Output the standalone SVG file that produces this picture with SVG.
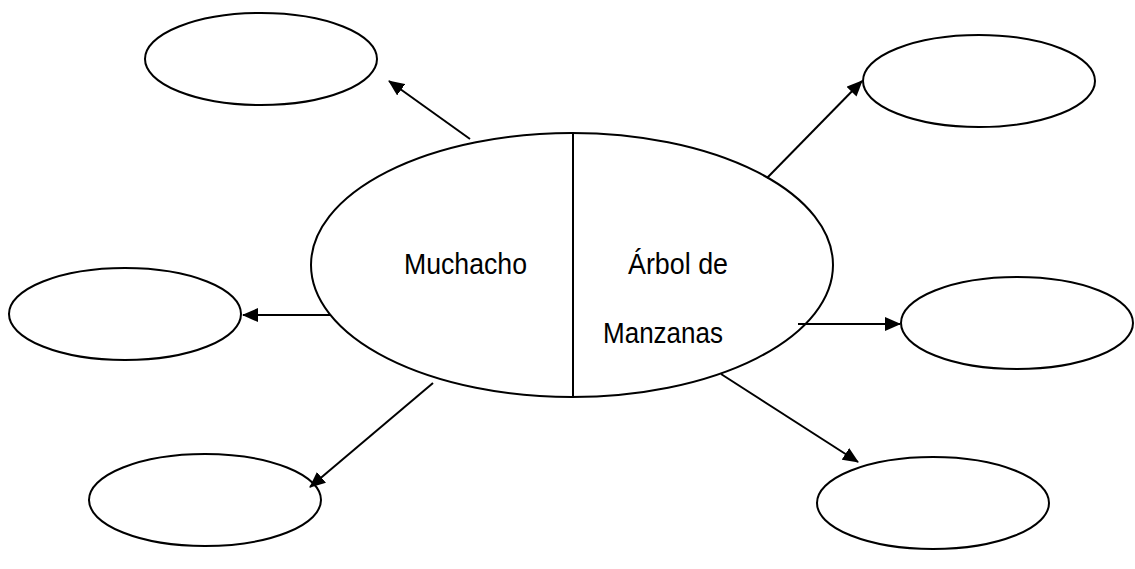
<svg xmlns="http://www.w3.org/2000/svg" width="1135" height="569" viewBox="0 0 1135 569">
<style>
.shape{fill:#fff;stroke:#000;stroke-width:2}
.conn{stroke:#000;stroke-width:2;fill:none;marker-end:url(#arr)}
.lbl{font-family:"Liberation Sans",Arial,sans-serif;font-size:29px;fill:#000}
</style>
<defs>
<marker id="arr" markerWidth="8" markerHeight="7" refX="7.5" refY="3.5" orient="auto" markerUnits="strokeWidth">
<path d="M0,0 L8,3.5 L0,7 Z" fill="#000"/>
</marker>
</defs>
<rect width="1135" height="569" fill="#fff"/>
<g id="center">
<ellipse class="shape" cx="572" cy="265" rx="261" ry="132"/>
<line x1="573" y1="133" x2="573" y2="397" stroke="#000" stroke-width="2"/>
<text class="lbl" x="404" y="274" textLength="123" lengthAdjust="spacingAndGlyphs">Muchacho</text>
<text class="lbl" x="628" y="274" textLength="100" lengthAdjust="spacingAndGlyphs">Árbol de</text>
<text class="lbl" x="603" y="343" textLength="120" lengthAdjust="spacingAndGlyphs">Manzanas</text>
</g>
<g id="top-left"><ellipse class="shape" cx="261" cy="59" rx="116" ry="46"/></g>
<g id="top-right"><ellipse class="shape" cx="979" cy="81" rx="116" ry="46"/></g>
<g id="mid-left"><ellipse class="shape" cx="125" cy="314" rx="116" ry="46"/></g>
<g id="mid-right"><ellipse class="shape" cx="1017" cy="323" rx="116" ry="46"/></g>
<g id="bottom-left"><ellipse class="shape" cx="205" cy="500" rx="116" ry="46"/></g>
<g id="bottom-right"><ellipse class="shape" cx="933" cy="503" rx="116" ry="46"/></g>
<g id="connectors">
<line class="conn" x1="470" y1="139" x2="389" y2="81"/>
<line class="conn" x1="331" y1="315" x2="243" y2="315"/>
<line class="conn" x1="433" y1="383" x2="310" y2="487"/>
<line class="conn" x1="767" y1="178" x2="862" y2="81"/>
<line class="conn" x1="798" y1="324" x2="900" y2="324"/>
<line class="conn" x1="721" y1="374" x2="858" y2="462"/>
</g>
</svg>
